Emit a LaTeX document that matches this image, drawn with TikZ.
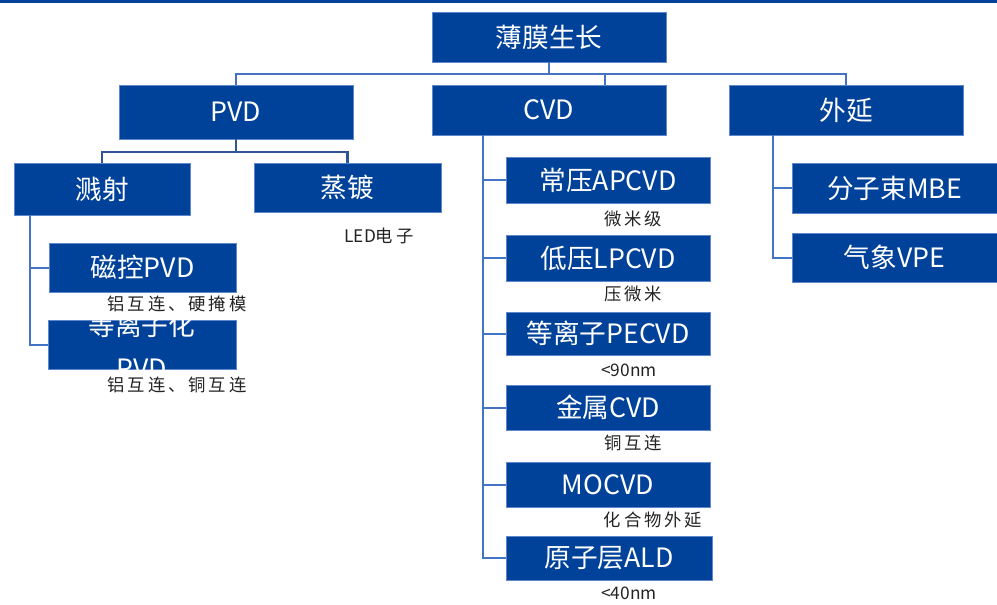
\documentclass[tikz,border=0pt]{standalone}
\usepackage{fontspec}
\setmainfont{Noto Sans CJK SC}
\newfontfamily\annc[LetterSpace=17]{Noto Sans CJK SC}
\usetikzlibrary{fit,calc}
\definecolor{boxblue}{RGB}{0,66,153}
\definecolor{boxedge}{RGB}{95,135,205}
\definecolor{lineblue}{RGB}{68,114,196}
\definecolor{linedark}{RGB}{47,85,151}
\definecolor{anngray}{RGB}{35,35,35}
\tikzset{
 box/.style={fill=boxblue, draw=boxedge, line width=0.6pt, inner sep=0pt},
 boxtext/.style={text=white, font=\fontsize{20}{24}\selectfont, inner sep=0pt, align=center},
 ann/.style={text=anngray, font=\fontsize{13}{15}\selectfont, inner sep=0pt},
 conn/.style={draw=lineblue, line width=1.5pt},
 conndark/.style={draw=linedark, line width=2pt},
}
\newcommand\bx[6]{\node[box, fit={(#2,#3)(#4,#5)}] (#1) {}; \node[boxtext] (#1t) at (#1.center) {#6};}
\begin{document}
\begin{tikzpicture}[x=0.75pt,y=-0.75pt]
\useasboundingbox (0,0) rectangle (997,604);
\fill[boxblue] (0,0) rectangle (997,2.5);
% boxes
\bx{root}{432}{12}{666}{62}{薄膜生长}
\bx{pvd}{119}{85}{353}{139}{PVD}
\bx{cvd}{432}{85}{666}{135}{CVD}
\bx{wy}{729}{85}{963}{135}{外延}
\bx{js}{14}{163}{190}{215}{溅射}
\bx{zd}{254}{163}{441}{212}{蒸镀}
\bx{mk}{49}{243}{236}{292}{磁控PVD}
\node[box, fit={(48,320)(236,369)}] (dlz) {};
\begin{scope}
\clip (48,320) rectangle (236,369);
\node[boxtext, font=\fontsize{20}{32}\selectfont] (dlzt) at ($(dlz.center)+(0,1)$) {等离子化\\PVD};
\end{scope}
\bx{ap}{506}{157}{710}{203}{常压APCVD}
\bx{lp}{506}{235}{710}{281}{低压LPCVD}
\bx{pe}{506}{312}{710}{355}{等离子PECVD}
\bx{jm}{506}{385}{710}{430}{金属CVD}
\bx{mo}{506}{462}{710}{507}{MOCVD}
\bx{ald}{506}{536}{712}{580}{原子层ALD}
\bx{mbe}{792}{163}{997}{213}{分子束MBE}
\bx{vpe}{792}{233}{997}{282}{气象VPE}
% annotations
\node[ann] (a1) at (177,304) {\annc 铝互连、硬掩模};
\node[ann] (a2) at (177,385) {\annc 铝互连、铜互连};
\node[ann] (a3) at (379,236) {LED{\annc 电子}};
\node[ann] (a4) at (633,219) {\annc 微米级};
\node[ann] (a5) at (633,294) {\annc 压微米};
\node[ann] (a6) at (629,370) {<90nm};
\node[ann] (a7) at (633,443) {\annc 铜互连};
\node[ann] (a8) at (653,520) {\annc 化合物外延};
\node[ann] (a9) at (629,593) {<40nm};
% connectors
\coordinate (h1) at (0,74);
\draw[conn] (root.south) -- (root.south |- h1);
\draw[conn] (pvd.north) -- (pvd.north |- h1) -- (wy.north |- h1) -- (wy.north);
\coordinate (cvdtop) at ($(cvd.north west)!0.74!(cvd.north east)$);
\draw[conn] (cvdtop |- h1) -- (cvdtop);
\coordinate (h2) at (0,152);
\draw[conndark] (pvd.south) -- (pvd.south |- h2);
\draw[conndark] (js.north) -- (js.north |- h2) -- (zd.north |- h2) -- (zd.north);
\coordinate (jsx) at ($(js.south west)+(16,0)$);
\draw[conn] (jsx) |- (mk.west);
\draw[conn] (jsx) |- (dlz.west);
\coordinate (cx) at ($(cvd.south west)+(51,0)$);
\foreach \n in {ap,lp,pe,jm,mo,ald} {\draw[conn] (cx) |- (\n.west);}
\coordinate (wx) at ($(wy.south west)+(44,0)$);
\draw[conn] (wx) |- (mbe.west);
\draw[conn] (wx) |- (vpe.west);
\end{tikzpicture}
\end{document}
